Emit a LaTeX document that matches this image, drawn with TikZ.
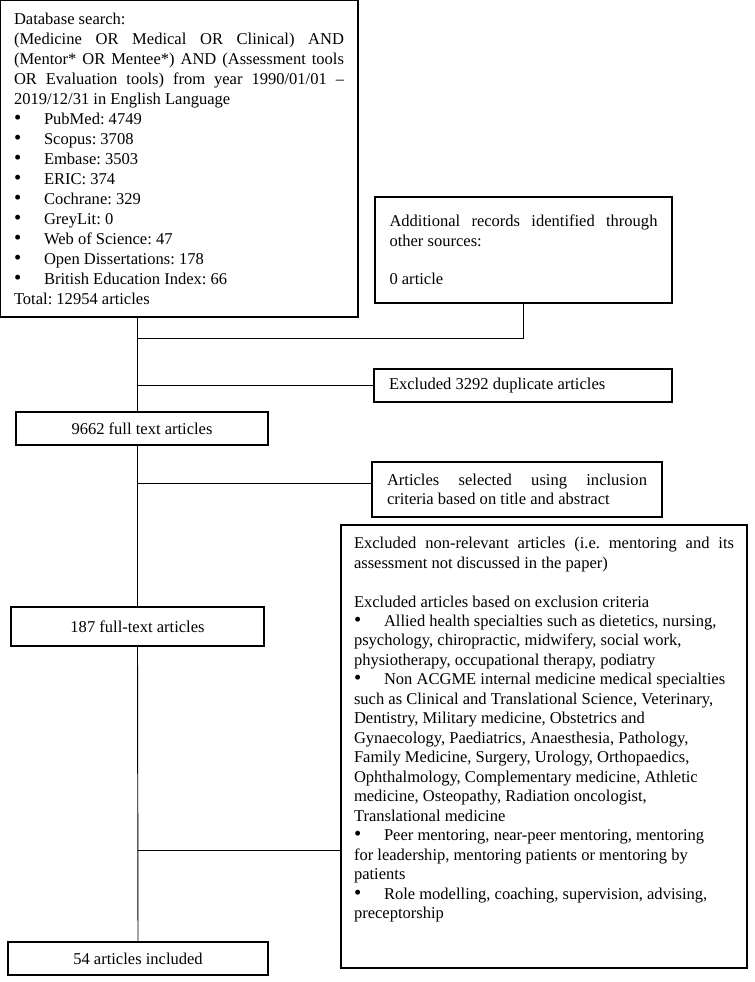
\documentclass[tikz,border=0pt]{standalone}
\usepackage{fontspec}
\setmainfont{Liberation Serif}
\setlength{\parindent}{0pt}
\tolerance=10000
\hbadness=10000
\frenchspacing
\newcommand{\bul}{\makebox[22.5pt][l]{\scalebox{1.25}{\textbullet}}}

\begin{document}
\begin{tikzpicture}[x=.75pt, y=-.75pt,
  box/.style={draw, rectangle, line width=1.2pt, inner sep=0pt, font=\fontsize{12.4}{14.6}\selectfont},
  link/.style={line width=.7pt}]
\useasboundingbox (0,0) rectangle (754,982);

% left column
\node[box, minimum width=268.5pt, minimum height=237.75pt, text width=247.5pt, align=justify,
      font=\fontsize{12.4}{15}\selectfont] (search) at (179,158.5)
  {Database search:\par
   (Medicine OR Medical OR Clinical) AND\linebreak
   (Mentor* OR Mentee*) AND (Assessment tools\linebreak
   OR Evaluation tools) from year 1990/01/01 --\linebreak
   2019/12/31 in English Language\par
   \bul PubMed: 4749\par
   \bul Scopus: 3708\par
   \bul Embase: 3503\par
   \bul ERIC: 374\par
   \bul Cochrane: 329\par
   \bul GreyLit: 0\par
   \bul Web of Science: 47\par
   \bul Open Dissertations: 178\par
   \bul British Education Index: 66\par
   Total: 12954 articles};
\node[box, minimum width=189pt, minimum height=24.75pt] (nine) at (142,428.5) {9662 full text articles};
\node[box, minimum width=189.75pt, minimum height=29.25pt] (full187) at (137.5,626.5) {187 full-text articles};
\node[box, minimum width=195pt, minimum height=24.75pt] (incl) at (138,958.5) {54 articles included};

% right column
\node[box, minimum width=222.75pt, minimum height=79.5pt, text width=201pt, align=justify] (other) at (523.5,250)
  {Additional records identified through\linebreak other sources:\par
   \vspace{\baselineskip}
   0 article};
\node[box, minimum width=223.5pt, minimum height=24.75pt, text width=201pt, align=flush left] (dup) at (523,385.5)
  {Excluded 3292 duplicate articles};
\node[box, minimum width=217.5pt, minimum height=41.25pt, text width=195pt, align=justify] (sel) at (517,489.5)
  {Articles selected using inclusion\linebreak criteria based on title and abstract};
\node[box, minimum width=304.5pt, minimum height=332.25pt] (excl) at (544,746.5)
  {\parbox[c][314pt][t]{285pt}{%
   Excluded non-relevant articles (i.e. mentoring and its\linebreak
   assessment not discussed in the paper)\par
   \vspace{\baselineskip}
   Excluded articles based on exclusion criteria\par
   {\raggedright
   \bul Allied health specialties such as dietetics, nursing,\\
   psychology, chiropractic, midwifery, social work,\\
   physiotherapy, occupational therapy, podiatry\par
   \bul Non ACGME internal medicine medical specialties\\
   such as Clinical and Translational Science, Veterinary,\\
   Dentistry, Military medicine, Obstetrics and\\
   Gynaecology, Paediatrics, Anaesthesia, Pathology,\\
   Family Medicine, Surgery, Urology, Orthopaedics,\\
   Ophthalmology, Complementary medicine, Athletic\\
   medicine, Osteopathy, Radiation oncologist,\\
   Translational medicine\par
   \bul Peer mentoring, near-peer mentoring, mentoring\\
   for leadership, mentoring patients or mentoring by\\
   patients\par
   \bul Role modelling, coaching, supervision, advising,\\
   preceptorship\par}}};

% connectors
\coordinate (joinadd) at (full187.north |- 0,338);
\coordinate (joinexcl) at (full187.north |- 0,850);
\draw[link] (search.south -| full187.north) -- (nine.north -| full187.north);
\draw[link] (other.south) |- (joinadd);
\draw[link] (dup.west) -- (dup.west -| full187.north);
\draw[link] (nine.south -| full187.north) -- (full187.north);
\draw[link] ([yshift=4.9pt]sel.west) -- ([yshift=4.9pt]sel.west -| full187.north);
\draw[link] (full187.south) -- (incl.north);
\draw[link] (joinexcl) -- (joinexcl -| excl.west);
\end{tikzpicture}
\end{document}
